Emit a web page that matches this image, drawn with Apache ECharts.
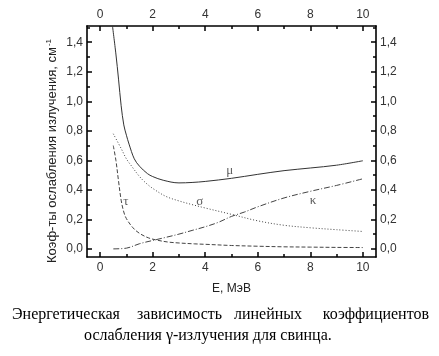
<!DOCTYPE html>
<html><head><meta charset="utf-8">
<script src="https://cdn.jsdelivr.net/npm/echarts@6/dist/echarts.min.js"></script>
<style>html,body{margin:0;padding:0;background:#fff}#c{width:439px;height:356px}</style>
</head><body><div id="c"></div>
<script>
// ---- data ----
const xMajorTicks = [0, 2, 4, 6, 8, 10];
const xMinorTicks = [1, 3, 5, 7, 9];
const yMajorTicks = [0, 0.2, 0.4, 0.6, 0.8, 1.0, 1.2, 1.4];
const yMinorTicks = [0.1, 0.3, 0.5, 0.7, 0.9, 1.1, 1.3, 1.5];

const muData = [[0.47,1.51],[0.6,1.32],[0.7,1.15],[0.8,0.97],[0.9,0.84],[1.0,0.77],[1.1,0.71],[1.3,0.61],[1.5,0.56],[1.8,0.51],[2.0,0.49],[2.4,0.465],[3.0,0.447],[3.5,0.45],[4.0,0.457],[5.0,0.478],[6.0,0.505],[7.0,0.53],[8.0,0.548],[9.0,0.567],[10.0,0.597]];
const sigmaData = [[0.5,0.78],[0.8,0.68],[1.0,0.61],[1.2,0.56],[1.5,0.49],[1.75,0.445],[2.0,0.41],[2.5,0.356],[3.0,0.325],[3.5,0.30],[4.0,0.277],[5.0,0.234],[6.0,0.19],[7.0,0.16],[8.0,0.143],[9.0,0.13],[10.0,0.118]];
const tauData = [[0.5,0.70],[0.6,0.60],[0.7,0.46],[0.8,0.33],[0.9,0.25],[1.0,0.205],[1.25,0.143],[1.5,0.105],[1.85,0.074],[2.2,0.058],[2.6,0.046],[3.0,0.04],[3.6,0.034],[4.0,0.031],[5.0,0.023],[6.0,0.018],[7.0,0.014],[8.0,0.012],[9.0,0.01],[10.0,0.009]];
const kappaData = [[0.5,0.0],[1.0,0.005],[1.5,0.035],[2.0,0.057],[2.5,0.078],[3.0,0.10],[3.5,0.125],[4.0,0.15],[4.5,0.18],[5.0,0.22],[5.5,0.25],[6.0,0.285],[7.0,0.345],[8.0,0.39],[9.0,0.43],[10.0,0.475]];

const curveLabels = ['μ', 'σ', 'τ', 'κ'];
const curveLabelPos = [[4.93,0.532],[3.79,0.318],[0.98,0.318],[8.10,0.327]];

const xTitle = 'E, МэВ';
const yTitle = 'Коэф-ты ослабления излучения, см';
const captionLine1 = ['Энергетическая', 'зависимость', 'линейных', 'коэффициентов'];
const captionLine2 = 'ослабления γ-излучения для свинца.';

// ---- chart ----
const chart = echarts.init(document.getElementById('c'), null, {renderer: 'canvas'});
const labelFont = {fontFamily: 'Liberation Sans', fontSize: 12, color: '#333'};
const yFmt = v => v.toFixed(1).replace('.', ',');
const frameLine = {show: true, onZero: false, lineStyle: {color: '#000', width: 1.6}};
const noLine = {show: false, onZero: false};

function xAx(pos, major) {
  return {
    type: 'value', min: -0.5, max: 10.5, position: pos,
    axisLine: major ? frameLine : noLine,
    splitLine: {show: false},
    axisTick: {show: true, inside: true, length: major ? 5 : 3, customValues: major ? xMajorTicks : xMinorTicks, lineStyle: {color: '#000', width: 1.5}},
    axisLabel: major ? Object.assign({show: true, margin: 5, customValues: xMajorTicks}, labelFont) : {show: false}
  };
}
function yAx(pos, major) {
  return {
    type: 'value', min: -0.055, max: 1.51, position: pos,
    axisLine: major ? frameLine : noLine,
    splitLine: {show: false},
    axisTick: {show: true, inside: true, length: major ? 5 : 3, customValues: major ? yMajorTicks : yMinorTicks, lineStyle: {color: '#000', width: 1.5}},
    axisLabel: major ? Object.assign({show: true, margin: 4, customValues: yMajorTicks, formatter: yFmt}, labelFont) : {show: false}
  };
}

const xAxes = [xAx('bottom', true), xAx('bottom', false), xAx('top', true), xAx('top', false)];
xAxes[0].name = xTitle;
xAxes[0].nameLocation = 'middle';
xAxes[0].nameGap = 26;
xAxes[0].nameTextStyle = {fontFamily: 'Liberation Sans', fontSize: 12, color: '#222'};

const lineCommon = {type: 'line', xAxisIndex: 0, yAxisIndex: 0, showSymbol: false, symbol: 'none', smooth: 0.35, animation: false};

const graphics = [
  {type: 'text', x: 52, y: 151, rotation: Math.PI / 2,
   style: {text: '{a|' + yTitle + '}{s|-1}', align: 'center', verticalAlign: 'middle',
     rich: {a: {fontFamily: 'Liberation Sans', fontSize: 13, fill: '#222'},
            s: {fontFamily: 'Liberation Sans', fontSize: 8, fill: '#222', verticalAlign: 'top', padding: [0,0,6,1]}}}}
];
const line1X = [12, 137, 234, 309];
captionLine1.forEach((w, i) => graphics.push({type: 'text', x: i === 3 ? 429 : line1X[i], y: 314.5,
  style: {text: w, fontFamily: 'Liberation Serif', fontSize: 16, fill: '#000', verticalAlign: 'middle', align: i === 3 ? 'right' : 'left'}}));
graphics.push({type: 'text', x: 84, y: 335.5,
  style: {text: captionLine2, fontFamily: 'Liberation Serif', fontSize: 16, fill: '#000', verticalAlign: 'middle'}});

chart.setOption({
  animation: false,
  backgroundColor: '#fff',
  grid: {left: 87, right: 63, top: 26, bottom: 99, containLabel: false},
  xAxis: xAxes,
  yAxis: [yAx('left', true), yAx('left', false), yAx('right', true), yAx('right', false)],
  series: [
    Object.assign({name: 'mu', data: muData, lineStyle: {color: '#333', width: 1, type: 'solid'}}, lineCommon),
    Object.assign({name: 'sigma', data: sigmaData, lineStyle: {color: '#444', width: 1, type: [1, 2]}}, lineCommon),
    Object.assign({name: 'tau', data: tauData, lineStyle: {color: '#444', width: 1, type: [4, 2]}}, lineCommon),
    Object.assign({name: 'kappa', data: kappaData, lineStyle: {color: '#444', width: 1, type: [6, 2, 1, 2]}}, lineCommon),
    {type: 'scatter', xAxisIndex: 0, yAxisIndex: 0, symbolSize: 0, itemStyle: {color: 'rgba(0,0,0,0)'}, animation: false,
     data: curveLabels.map((n, i) => ({name: n, value: curveLabelPos[i]})),
     label: {show: true, position: 'inside', formatter: '{b}', fontFamily: 'Liberation Serif', fontSize: 13, color: '#333'}}
  ],
  graphic: graphics
});
</script></body></html>
